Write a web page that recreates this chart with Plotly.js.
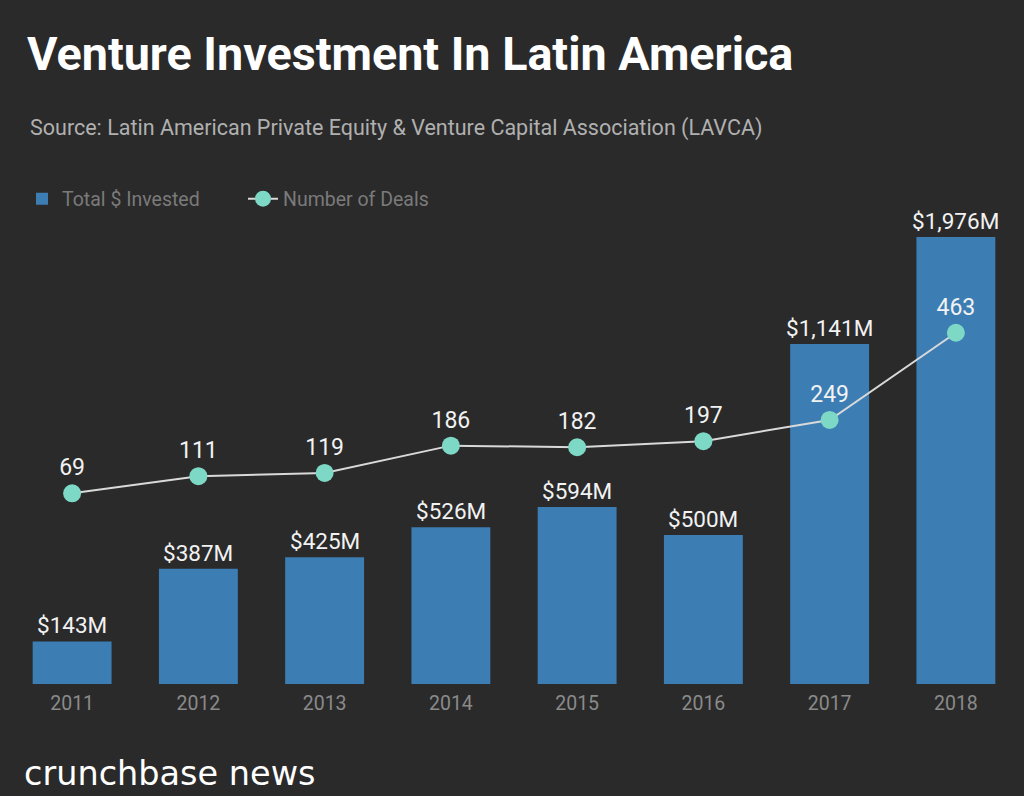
<!DOCTYPE html>
<html>
<head>
<meta charset="utf-8">
<script src="https://cdn.plot.ly/plotly-3.0.1.min.js"></script>
<style>
html,body{margin:0;padding:0;background:#2a2a2a;}
#chart{width:1024px;height:796px;}
</style>
</head>
<body>
<div id="chart"></div>
<script>
const years = ['2011','2012','2013','2014','2015','2016','2017','2018'];
const invested = [143, 387, 425, 526, 594, 500, 1141, 1976];
const deals = [69, 111, 119, 186, 182, 197, 249, 463];
const investedLabels = ['$143M','$387M','$425M','$526M','$594M','$500M','$1,141M','$1,976M'];

const yMax = 1500;
const font = 'Roboto, "Open Sans", sans-serif';
const W = 1024, H = 796, mL = 9, mR = 5, mT = 237, mB = 112;
const px = x => (x - mL) / (W - mL - mR);
const py = y => (H - mB - y) / (H - mT - mB);

const barTrace = {
  type: 'bar', x: years, y: invested, name: 'Total $ Invested',
  marker: {color: '#3c7db4'}, hoverinfo: 'skip'
};
const lineTrace = {
  type: 'scatter', mode: 'lines+markers+text', x: years, y: deals, yaxis: 'y2',
  name: 'Number of Deals',
  line: {color: '#d9d9d9', width: 2},
  marker: {color: '#7dd8c5', size: 18},
  text: deals.map(String), textposition: 'top center',
  textfont: {color: '#f2f2f2', size: 23, family: font},
  cliponaxis: false, hoverinfo: 'skip'
};

const annotations = years.map((yr, i) => ({
  x: i, y: Math.min(invested[i], yMax), xref: 'x', yref: 'y',
  text: investedLabels[i], showarrow: false, yanchor: 'bottom', yshift: 1,
  font: {color: '#f2f2f2', size: 22.5, family: font}
}));
annotations.push({
  xref: 'paper', yref: 'paper', x: px(22), y: py(773),
  xanchor: 'left', yanchor: 'middle', showarrow: false,
  text: 'crunchbase news', font: {color: '#ffffff', size: 33.5, family: '"DejaVu Sans", sans-serif'}
});
annotations.push({
  xref: 'paper', yref: 'paper', x: px(28), y: py(128),
  xanchor: 'left', yanchor: 'middle', showarrow: false,
  text: 'Source: Latin American Private Equity &amp; Venture Capital Association (LAVCA)',
  font: {color: '#b0b0b0', size: 21.5, family: font}
});

const layout = {
  width: W, height: H,
  paper_bgcolor: '#2a2a2a', plot_bgcolor: '#2a2a2a',
  margin: {l: mL, r: mR, t: mT, b: mB},
  title: {
    text: '<b>Venture Investment In Latin America</b>',
    x: 27/W, xref: 'container', xanchor: 'left',
    y: 1 - 54/H, yref: 'container', yanchor: 'middle',
    font: {color: '#ffffff', size: 46.7, family: font}
  },
  bargap: 0.375,
  showlegend: true,
  legend: {
    orientation: 'h', x: px(22), y: py(199), xref: 'paper', yref: 'paper',
    xanchor: 'left', yanchor: 'middle',
    font: {color: '#7a7a7a', size: 19.5, family: font},
    bgcolor: 'rgba(0,0,0,0)', entrywidth: 176, traceorder: 'normal'
  },
  xaxis: {
    type: 'category', showgrid: false, zeroline: false, showline: false, ticks: '',
    ticklabelstandoff: 5,
    tickfont: {color: '#8a8a8a', size: 19.5, family: font}
  },
  yaxis: {range: [0, yMax], visible: false, showgrid: false, zeroline: false},
  yaxis2: {range: [-399, 698], overlaying: 'y', side: 'right', visible: false, showgrid: false, zeroline: false},
  annotations: annotations
};

Plotly.newPlot('chart', [barTrace, lineTrace], layout, {displayModeBar: false, staticPlot: true});
</script>
</body>
</html>
